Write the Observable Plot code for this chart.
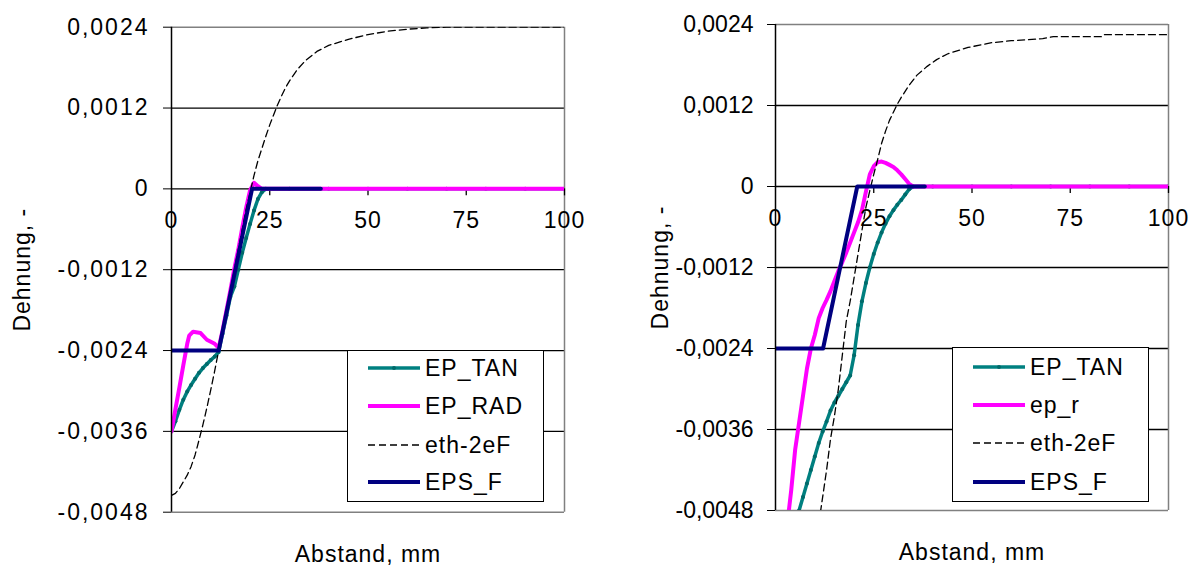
<!DOCTYPE html>
<html><head><meta charset="utf-8">
<script src="https://cdn.jsdelivr.net/npm/d3@7"></script>
<script src="https://cdn.jsdelivr.net/npm/@observablehq/plot@0.6"></script>
<style>
body{margin:0;background:#fff;font-family:"Liberation Sans",Arial,sans-serif;}
#wrap{display:flex;width:1200px;height:567px;overflow:hidden;}
.panel{position:relative;width:600px;height:567px;}
.legend{position:absolute;background:#fff;border:1px solid #000;box-sizing:border-box;}
svg text{letter-spacing:1px;}
</style>
</head><body><div id="wrap"><div class="panel" id="p1"></div><div class="panel" id="p2"></div></div>
<script>
// ---------- ticks ----------
const xTicks = [0, 25, 50, 75, 100];
const yTicks = [0.0024, 0.0012, 0, -0.0012, -0.0024, -0.0036, -0.0048];
const gridY = [0.0012, 0, -0.0012, -0.0024, -0.0036];

// ---------- left chart ----------
const tanL_x = [0,1,2,3,4,5,6,7,8,9,10,11,12,13,14,15,16,17,18,19,20,21,22,23,24,30,40,50,60,70,80,90,100];
const tanL_y = [-0.0036,-0.00345,-0.00328,-0.00313,-0.00301,-0.00291,-0.00282,-0.00273,-0.00266,-0.0026,-0.00254,-0.00249,-0.00242,-0.00215,-0.00188,-0.0016,-0.00145,-0.0012,-0.00095,-0.00073,-0.00052,-0.00032,-0.00015,-0.00005,0,0,0,0,0,0,0,0,0];
const radL_x = [0,1,2,3,4,4.5,5.5,7.4,9,11,12,13,14,15,16,17,18,19,20,21,22,23,40,60,80,100];
const radL_y = [-0.0036,-0.00327,-0.00295,-0.00262,-0.0023,-0.00218,-0.00212,-0.00214,-0.00224,-0.0023,-0.00236,-0.0021,-0.0018,-0.0015,-0.00118,-0.0009,-0.00058,-0.00028,-0.00002,0.00009,0.00004,0,0,0,0,0];
const ethL_x = [0,1,2,3,4,5,6,7,8,9,10,11,12,13,14,15,16,17,18,19,20,21,22,23,24,25,26,27,28,29,30,32,34,37,40,45,50,55,60,65,70,80,90,100];
const ethL_y = [-0.00455,-0.00452,-0.00445,-0.00435,-0.00425,-0.00412,-0.00395,-0.00373,-0.0035,-0.00325,-0.00298,-0.0027,-0.0024,-0.0021,-0.0018,-0.0015,-0.0012,-0.0009,-0.0006,-0.0003,-0.00005,0.0002,0.00042,0.0006,0.00078,0.00095,0.0011,0.00125,0.00138,0.0015,0.0016,0.00177,0.0019,0.00204,0.00213,0.00222,0.00229,0.00234,0.00237,0.00239,0.0024,0.0024,0.0024,0.0024];
const epsL_x = [0, 12, 20.5, 38];
const epsL_y = [-0.0024, -0.0024, 0, 0];

// ---------- right chart ----------
const tanR_x = [0,1,2,3,4,5,6,7,8,9,10,11,12,13,14,15,16,17,18,19,20,21,22,23,24,25,26,27,28,29,30,31,32,33,34,35,40,50,60,70,80,90,100];
const tanR_y = [-0.0059,-0.0057,-0.0055,-0.0053,-0.0051,-0.00495,-0.0048,-0.0046,-0.0044,-0.0042,-0.004,-0.0038,-0.00363,-0.00348,-0.00332,-0.0032,-0.0031,-0.003,-0.0029,-0.0028,-0.0025,-0.00205,-0.0017,-0.00143,-0.0012,-0.001,-0.00083,-0.00068,-0.00055,-0.00044,-0.00035,-0.00027,-0.0002,-0.00012,-0.00004,0,0,0,0,0,0,0,0];
const radR_x = [0,1,2,3,4,5,6,7,8,9,10,11,12,13,14,15,16,17,18,19,20,21,22,23,24,25,26,27,28,29,30,31,32,33,34,35,50,75,100];
const radR_y = [-0.0066,-0.0061,-0.0056,-0.005,-0.0045,-0.0039,-0.0035,-0.0031,-0.0027,-0.0024,-0.0022,-0.00195,-0.0018,-0.00168,-0.00155,-0.0014,-0.00125,-0.00112,-0.00098,-0.00083,-0.00068,-0.00053,-0.00035,-0.00008,0.00018,0.0003,0.00036,0.00037,0.00035,0.00032,0.00029,0.00024,0.00018,0.00011,0.00004,0,0,0,0];
const ethR_x = [0,5,8,10,11.5,13,14,15,16,17,18,19,20,21,22,23,24,25,26,27,28,29,30,31,32,34,36,38.6,41,44,49,55,60,68,70.7,83,83.5,100];
const ethR_y = [-0.0068,-0.0064,-0.006,-0.0055,-0.0048,-0.0042,-0.00374,-0.0034,-0.003,-0.0025,-0.002,-0.0017,-0.00135,-0.001,-0.00065,-0.00031,-0.00006,0.00018,0.0004,0.00064,0.00082,0.00098,0.0011,0.00122,0.00132,0.0015,0.00165,0.00178,0.00188,0.00197,0.00206,0.00213,0.00216,0.00219,0.00222,0.00222,0.00225,0.00225];
const epsR_x = [0, 12.1, 20.8, 38];
const epsR_y = [-0.0024, -0.0024, 0, 0];

const namesL = ["EP_TAN", "EP_RAD", "eth-2eF", "EPS_F"];
const namesR = ["EP_TAN", "ep_r", "eth-2eF", "EPS_F"];

const C_TAN = "#008080", C_RAD = "#FF00FF", C_ETH = "#000000", C_EPS = "#000080";
const FONT = "Liberation Sans, Arial, sans-serif";

function zipXY(xs, ys) { return xs.map((x, i) => ({x, y: ys[i]})); }
function fmt(v) { if (v === 0) return "0"; return (v < 0 ? "-" : "") + Math.abs(v).toFixed(4).replace(".", ","); }

function makeChart(o) {
  const tan = zipXY(o.tan[0], o.tan[1]);
  const rad = zipXY(o.rad[0], o.rad[1]);
  const eth = zipXY(o.eth[0], o.eth[1]);
  const eps = zipXY(o.eps[0], o.eps[1]);
  const chart = Plot.plot({
    width: 600, height: 567,
    marginLeft: o.mL, marginRight: o.mR, marginTop: o.mT, marginBottom: o.mB,
    style: {fontFamily: FONT, fontSize: "23px", background: "#fff", color: "#000", overflow: "visible"},
    x: {domain: [0, 100], axis: null},
    y: {domain: [-0.0048, 0.0024], axis: null},
    marks: [
      Plot.ruleY(gridY, {stroke: "#000", strokeWidth: 1.3}),
      Plot.ruleY([yTicks[0], yTicks[yTicks.length - 1]], {stroke: "#808080", strokeWidth: 1.5}),
      Plot.ruleX([100], {stroke: "#808080", strokeWidth: 1.5}),
      Plot.ruleX(xTicks.slice(1), {x: d => d, y1: 0, y2: 0, insetBottom: -7, stroke: "#000", strokeWidth: 1.3}),
      Plot.line(tan, {x: "x", y: "y", stroke: C_TAN, strokeWidth: 3.5, clip: true}),
      Plot.dot(tan, {x: "x", y: "y", r: 2, fill: "#006a6a", clip: true}),
      Plot.line(rad, {x: "x", y: "y", stroke: C_RAD, strokeWidth: 4, clip: true}),
      Plot.line(eth, {x: "x", y: "y", stroke: C_ETH, strokeWidth: 1.3, strokeDasharray: "7,4", clip: true}),
      Plot.line(eps, {x: "x", y: "y", stroke: C_EPS, strokeWidth: 4, clip: true}),
      Plot.ruleX([0], {stroke: "#000", strokeWidth: 1.5}),
      Plot.axisY({ticks: yTicks, tickFormat: fmt, tickSize: 8, tickPadding: 14, fontSize: 23, label: null}),
      Plot.text(xTicks, {x: d => d, y: () => 0, text: d => String(d), dy: 32, fontSize: 23}),
      Plot.text(["Dehnung, -"], {frameAnchor: "left", textAnchor: "middle", lineAnchor: "middle", rotate: -90, dx: o.titleDx, fontSize: 23}),
      Plot.text(["Abstand, mm"], {frameAnchor: "bottom", textAnchor: "middle", lineAnchor: "middle", dy: 42, fontSize: 23})
    ]
  });
  d3.select(chart).selectAll('g[aria-label="y-axis tick label"] text').style("letter-spacing", o.tickSpacing);
  return chart;
}

function makeLegend(names, box) {
  const colors = [C_TAN, C_RAD, C_ETH, C_EPS];
  const div = document.createElement("div");
  div.className = "legend";
  Object.assign(div.style, {left: box.left + "px", top: box.top + "px", width: box.w + "px", height: box.h + "px"});
  let s = `<svg width="${box.w - 2}" height="${box.h - 2}" style="position:absolute;left:0;top:0;font-family:${FONT};font-size:23px">`;
  names.forEach((n, i) => {
    const cy = box.rows[i];
    const c = colors[i];
    if (i === 2) {
      s += `<line x1="20" x2="72" y1="${cy}" y2="${cy}" stroke="${c}" stroke-width="1.3" stroke-dasharray="7,4"/>`;
    } else {
      s += `<line x1="20" x2="72" y1="${cy}" y2="${cy}" stroke="${c}" stroke-width="${i === 0 ? 3.5 : 4}"/>`;
    }
    if (i === 0) s += `<circle cx="46" cy="${cy}" r="2" fill="#006a6a"/>`;
    s += `<text x="77" y="${cy}" dy="0.36em" fill="#000" style="letter-spacing:1px">${n}</text>`;
  });
  s += `</svg>`;
  div.innerHTML = s;
  return div;
}

const p1 = document.getElementById("p1");
p1.appendChild(makeChart({
  tan: [tanL_x, tanL_y], rad: [radL_x, radL_y], eth: [ethL_x, ethL_y], eps: [epsL_x, epsL_y],
  mL: 171, mR: 36, mT: 26.7, mB: 55.3, titleDx: -149, tickSpacing: "2px"
}));
p1.appendChild(makeLegend(namesL, {left: 347, top: 350, w: 197, h: 152, rows: [17, 55, 94, 131]}));

const p2 = document.getElementById("p2");
p2.appendChild(makeChart({
  tan: [tanR_x, tanR_y], rad: [radR_x, radR_y], eth: [ethR_x, ethR_y], eps: [epsR_x, epsR_y],
  mL: 175, mR: 32, mT: 24, mB: 57, titleDx: -115, tickSpacing: "0px"
}));
p2.appendChild(makeLegend(namesR, {left: 352, top: 347, w: 197, h: 155, rows: [19, 57, 95, 134]}));
</script>
</body></html>
